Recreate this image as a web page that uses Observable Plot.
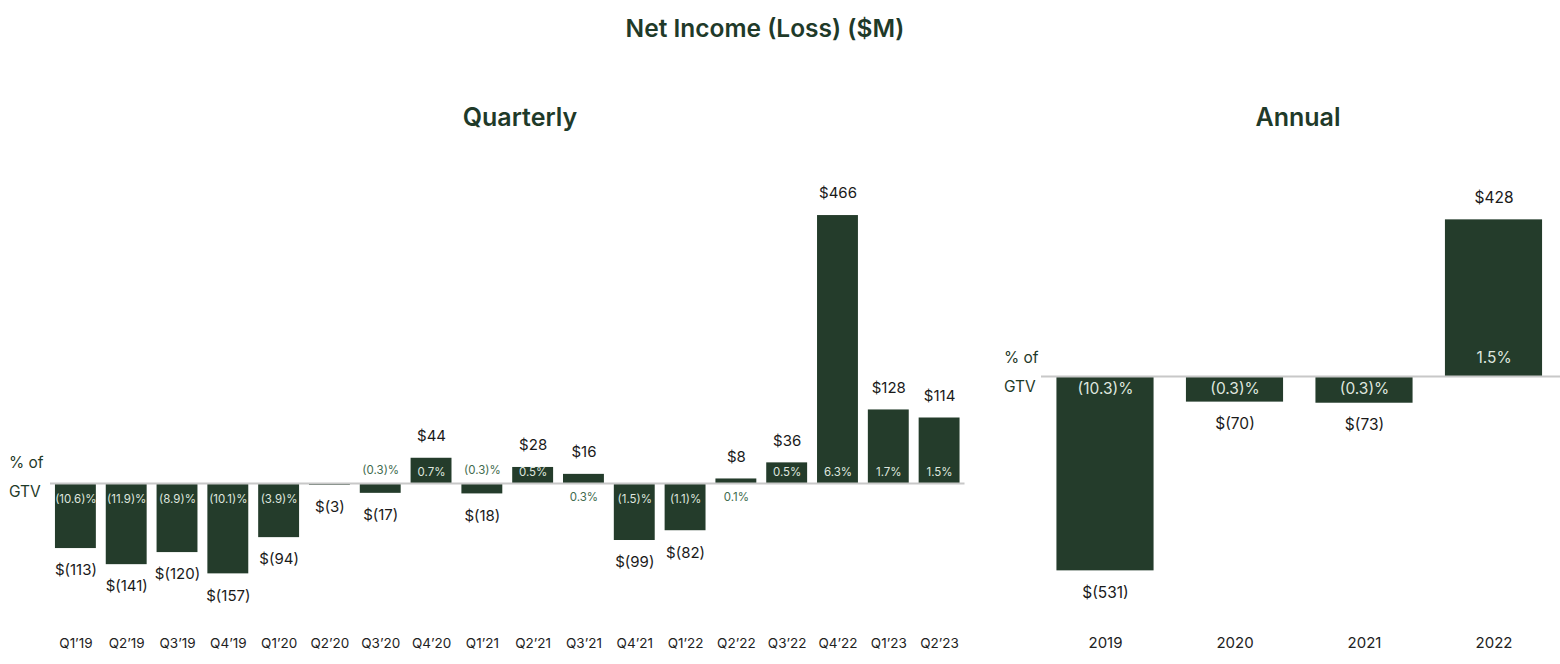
<!DOCTYPE html>
<html>
<head>
<meta charset="utf-8">
<script src="https://cdn.jsdelivr.net/npm/d3@7"></script>
<script src="https://cdn.jsdelivr.net/npm/@observablehq/plot@0.6"></script>
<style>
  html, body { margin: 0; padding: 0; background: #fff; }
  #page { position: relative; width: 1560px; height: 664px; overflow: hidden; font-family: Inter, Lato, "Noto Sans", sans-serif; }
  .t { position: absolute; color: #1f3a29; font-weight: 600; text-align: center; white-space: nowrap; }
  .gtv { position: absolute; color: #1f3a29; font-size: 15.5px; line-height: 29px; }
  .plot { position: absolute; top: 140px; }
</style>
</head>
<body>
<div id="page">
  <div class="t" style="left:0;width:1530px;top:13px;font-size:24.5px;">Net Income (Loss) ($M)</div>
  <div class="t" style="left:420px;width:200px;top:102px;font-size:25px;">Quarterly</div>
  <div class="t" style="left:1198px;width:200px;top:102px;font-size:25px;">Annual</div>
  <div class="gtv" style="left:9px;top:448px;">% of<br>GTV</div>
  <div class="gtv" style="left:1004px;top:343px;">% of<br>GTV</div>
  <div id="q" class="plot" style="left:0;"></div>
  <div id="a" class="plot" style="left:990px;"></div>
</div>
<script>
const quarters = ["Q1’19","Q2’19","Q3’19","Q4’19","Q1’20","Q2’20","Q3’20","Q4’20","Q1’21","Q2’21","Q3’21","Q4’21","Q1’22","Q2’22","Q3’22","Q4’22","Q1’23","Q2’23"];
const quarterlyValues = [-113,-141,-120,-157,-94,-3,-17,44,-18,28,16,-99,-82,8,36,466,128,114];
const quarterlyPct = ["(10.6)%","(11.9)%","(8.9)%","(10.1)%","(3.9)%",null,"(0.3)%","0.7%","(0.3)%","0.5%","0.3%","(1.5)%","(1.1)%","0.1%","0.5%","6.3%","1.7%","1.5%"];
const years = ["2019","2020","2021","2022"];
const annualValues = [-531,-70,-73,428];
const annualPct = ["(10.3)%","(0.3)%","(0.3)%","1.5%"];

const BAR = "#243c2b";
const fmt = v => v < 0 ? `$(${Math.abs(v)})` : `$${v}`;
const qData = quarters.map((q, i) => ({ k: q, v: quarterlyValues[i], pct: quarterlyPct[i] }));
const aData = years.map((y, i) => ({ k: y, v: annualValues[i], pct: annualPct[i] }));
const FONT = "Inter, Lato, 'Noto Sans', sans-serif";

function chart(data, opts) {
  const pos = data.filter(d => d.v >= 0);
  const neg = data.filter(d => d.v < 0);
  const withPct = data.filter(d => d.pct);
  const inside = d => Math.abs(d.v) >= opts.insideMin;
  return Plot.plot({
    width: opts.width, height: 524,
    marginLeft: opts.ml, marginRight: opts.mr, marginTop: 0, marginBottom: 36,
    x: { domain: data.map(d => d.k), range: opts.xrange, round: false, paddingInner: opts.pi, paddingOuter: opts.pi / 2, label: null, tickSize: 0, tickPadding: opts.tp },
    y: { domain: opts.ydomain, axis: null },
    style: { fontFamily: FONT, fontSize: opts.tickSize, color: "#222", background: "transparent" },
    marks: [
      Plot.barY(data, { x: "k", y: "v", fill: BAR }),
      Plot.ruleY([0], { stroke: "#c8c8c8", strokeWidth: 2 }),
      Plot.text(pos, { x: "k", y: "v", text: d => fmt(d.v), dy: -22, fontSize: opts.valSize, fill: "#1a1a1a" }),
      Plot.text(neg, { x: "k", y: "v", text: d => fmt(d.v), dy: 22, fontSize: opts.valSize, fill: "#1a1a1a" }),
      Plot.text(withPct.filter(d => inside(d) && d.v >= 0), { x: "k", y: 0, text: "pct", dy: opts.posIn, fontSize: opts.pctSize, fill: "#dfe6df" }),
      Plot.text(withPct.filter(d => inside(d) && d.v < 0), { x: "k", y: 0, text: "pct", dy: opts.negIn, fontSize: opts.pctSize, fill: "#dfe6df", letterSpacing: opts.negLs }),
      Plot.text(withPct.filter(d => !inside(d) && d.v >= 0), { x: "k", y: 0, text: "pct", dy: 14, fontSize: opts.pctSize, fill: "#3f6b4e" }),
      Plot.text(withPct.filter(d => !inside(d) && d.v < 0), { x: "k", y: 0, text: "pct", dy: -13, fontSize: opts.pctSize, fill: "#3f6b4e" })
    ]
  });
}

document.getElementById("q").append(chart(qData, {
  width: 980, ml: 50, mr: 15.5, xrange: undefined, pi: 0.195, tp: 10, tickSize: "13.5px", valSize: 15,
  ydomain: [-252, 596.5], insideMin: 25, posIn: -11, negIn: 16, pctSize: 11.5, negLs: "-0.6px"
}));
document.getElementById("a").append(chart(aData, {
  width: 570, ml: 51, mr: 0, xrange: [50.25, 568.25], pi: 0.25, tp: 9, tickSize: "15px", valSize: 15.5,
  ydomain: [-688.5, 644.8], insideMin: 25, posIn: -18, negIn: 13, pctSize: 15.5, negLs: "0px"
}));
</script>
</body>
</html>
